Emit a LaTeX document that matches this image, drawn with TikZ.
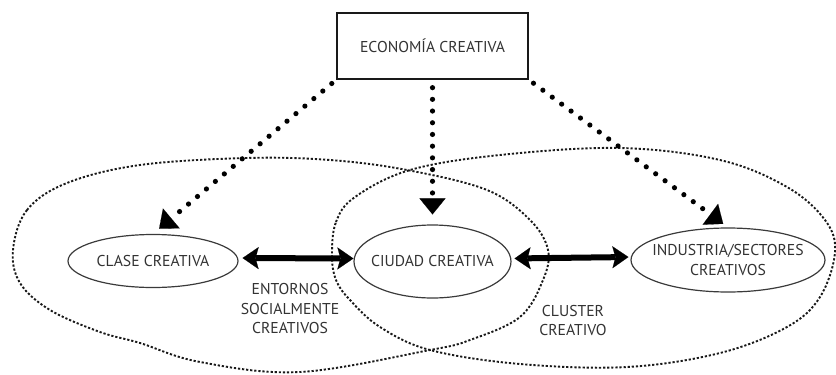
\documentclass[tikz,border=0pt]{standalone}
\usepackage{fontspec}
\setmainfont{PT Sans}
\usetikzlibrary{arrows.meta,shapes.geometric}
\definecolor{txt}{HTML}{333333}
\definecolor{ln}{HTML}{3A3A3A}
\begin{document}
\begin{tikzpicture}[x=1pt,y=-1pt,
  lbl/.style={font=\fontsize{15.7}{19.5}\selectfont, text=txt, align=center, inner sep=0pt},
  oval/.style={ellipse, draw=ln, line width=1.2pt, inner sep=0pt},
  region/.style={draw=black!90, line width=1.9pt, dash pattern=on 2.2pt off 1.9pt},
  dotarrow/.style={line width=5.2pt, line cap=round, dash pattern=on 0pt off 11.7pt,
    -{Triangle[length=16pt,width=26pt,line width=0.1pt]}},
  dbl/.style={line width=6pt,
    {Stealth[length=16pt,width=22pt,inset=3pt,line width=0.1pt]}-{Stealth[length=16pt,width=22pt,inset=3pt,line width=0.1pt]}}
]
\useasboundingbox (0,0) rectangle (836,375);

% regions
\draw[region] plot[smooth cycle, tension=0.6] coordinates {
  (13,250) (27,210) (67,183) (140,165) (247,158) (330,160) (407,170) (487,190)
  (530,220) (548,250) (543,280) (520,317) (470,340) (430,350) (300,372) (200,362)
  (140,343) (100,332) (50,310) (20,283)};
\draw[region] plot[smooth cycle, tension=0.6] coordinates {
  (332,255) (336,222) (355,197) (410,170) (500,155) (620,148) (720,160) (787,187)
  (825,220) (835,252) (820,297) (787,327) (720,353) (627,367) (520,364) (430,350)
  (380,327) (350,300) (336,280)};

% nodes
\node[draw=black!90, line width=1.3pt, minimum width=191pt, minimum height=66pt, lbl]
  (eco) at (432.5,46) {ECONOMÍA CREATIVA};
\node[oval, minimum width=170pt, minimum height=53pt,
  label={[lbl]center:CLASE CREATIVA}] (clase) at (153,261) {};
\node[oval, minimum width=157pt, minimum height=73pt,
  label={[lbl]center:CIUDAD CREATIVA}] (ciudad) at (432.5,261.5) {};
\node[oval, minimum width=194pt, minimum height=64pt,
  label={[lbl]center:INDUSTRIA/SECTORES\\CREATIVOS}] (industria) at (728,260) {};
\node[lbl] (entornos) at (290,309) {ENTORNOS\\SOCIALMENTE\\CREATIVOS};
\node[lbl] (cluster) at (573,320.5) {CLUSTER\\CREATIVO};

% dotted arrows
\draw[dotarrow, shorten <=6pt, shorten >=8pt] (eco.south west) -- (clase.north);
\draw[dotarrow, shorten <=8pt, shorten >=10pt] (eco.south) -- (ciudad.north);
\draw[dotarrow, shorten <=6pt, shorten >=6pt] (eco.south east) -- (industria.north);

% double arrows
\draw[dbl, shorten <=4pt] ([yshift=3pt]clase.east) -- ([yshift=3pt]ciudad.west);
\draw[dbl, shorten <=3pt, shorten >=2pt] ([yshift=3pt]ciudad.east) -- ([yshift=3pt]industria.west);
\end{tikzpicture}
\end{document}
